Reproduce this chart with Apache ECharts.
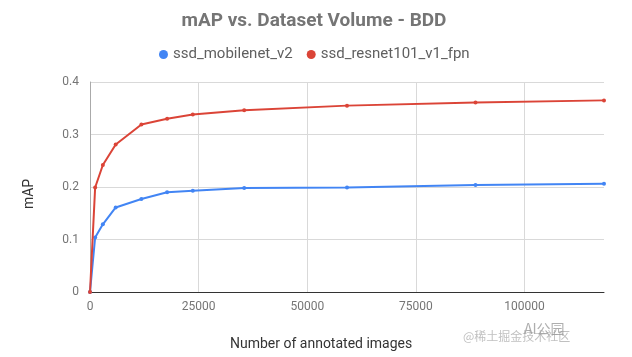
<!DOCTYPE html>
<html>
<head>
<meta charset="utf-8">
<script src="https://cdn.jsdelivr.net/npm/echarts@6/dist/echarts.min.js"></script>
<style>html,body{margin:0;padding:0;background:#fff}#c{width:632px;height:357px}</style>
</head>
<body>
<div id="c"></div>
<script>
var titleText = "mAP vs. Dataset Volume - BDD";
var seriesNames = ["ssd_mobilenet_v2", "ssd_resnet101_v1_fpn"];
var xValues = [0, 1183, 2957, 5914, 11829, 17743, 23657, 35486, 59143, 88715, 118287];
var mobilenetMAP = [0, 0.104, 0.129, 0.161, 0.177, 0.190, 0.193, 0.198, 0.199, 0.204, 0.206];
var resnetMAP = [0, 0.199, 0.242, 0.281, 0.319, 0.330, 0.338, 0.346, 0.355, 0.361, 0.365];
var xAxisName = "Number of annotated images";
var yAxisName = "mAP";

function pairs(xs, ys){ return xs.map(function(x,i){ return [x, ys[i]]; }); }

var chart = echarts.init(document.getElementById('c'), null, {renderer:'canvas'});
chart.setOption({
  animation:false,
  backgroundColor:'#fff',
  textStyle:{fontFamily:'Roboto'},
  title:{text:titleText, left:309, top:7, textAlign:'center',
    textStyle:{fontSize:19, fontWeight:'bold', color:'#757575', fontFamily:'Roboto'}},
  legend:{top:42, left:154, itemWidth:9, itemHeight:9, itemGap:14, icon:'circle',
    textStyle:{fontSize:15, color:'#5f5f5f', fontFamily:'Roboto'},
    data:seriesNames},
  grid:{left:90, right:28, top:82, bottom:65, containLabel:false},
  xAxis:{type:'value', min:0, max:118287, interval:25000,
    axisLine:{show:true, lineStyle:{color:'#333', width:1}},
    axisTick:{show:false},
    axisLabel:{color:'#757575', fontSize:12, margin:9, showMaxLabel:false,
      formatter:function(v){return String(v);}},
    splitLine:{show:true, showMaxLine:false, lineStyle:{color:'#d9d9d9'}}},
  yAxis:{type:'value', min:0, max:0.4, interval:0.1,
    axisLine:{show:true, lineStyle:{color:'#aaa', width:1}},
    axisTick:{show:false},
    axisLabel:{color:'#757575', fontSize:12, margin:11, formatter:function(v){return v===0?'0':String(+v.toFixed(1));}},
    splitLine:{show:true, lineStyle:{color:'#d9d9d9'}}},
  graphic:[
    {type:'text', x:29, y:194, rotation:Math.PI/2,
      style:{text:yAxisName, fontSize:14, fill:'#333', fontFamily:'Roboto', align:'center', verticalAlign:'middle'}},
    {type:'text', left:230, top:337, style:{text:xAxisName, fontSize:14, fill:'#333', fontFamily:'Roboto'}},
    {type:'text', left:524, top:322, style:{text:'AI公园', fontSize:14, fill:'rgba(120,120,120,0.6)', fontFamily:'Noto Sans CJK SC'}},
    {type:'text', left:463, top:330, style:{text:'@稀土掘金技术社区', fontSize:12, fill:'rgba(150,150,150,0.6)', fontFamily:'Noto Sans CJK SC'}}
  ],
  series:[
    {name:seriesNames[0], type:'line', data:pairs(xValues, mobilenetMAP),
      color:'#4285F4', symbol:'circle', symbolSize:4, showSymbol:true,
      lineStyle:{width:2}, z:3},
    {name:seriesNames[1], type:'line', data:pairs(xValues, resnetMAP),
      color:'#DB4437', symbol:'circle', symbolSize:4, showSymbol:true,
      lineStyle:{width:2}, z:4}
  ]
});
</script>
</body>
</html>
